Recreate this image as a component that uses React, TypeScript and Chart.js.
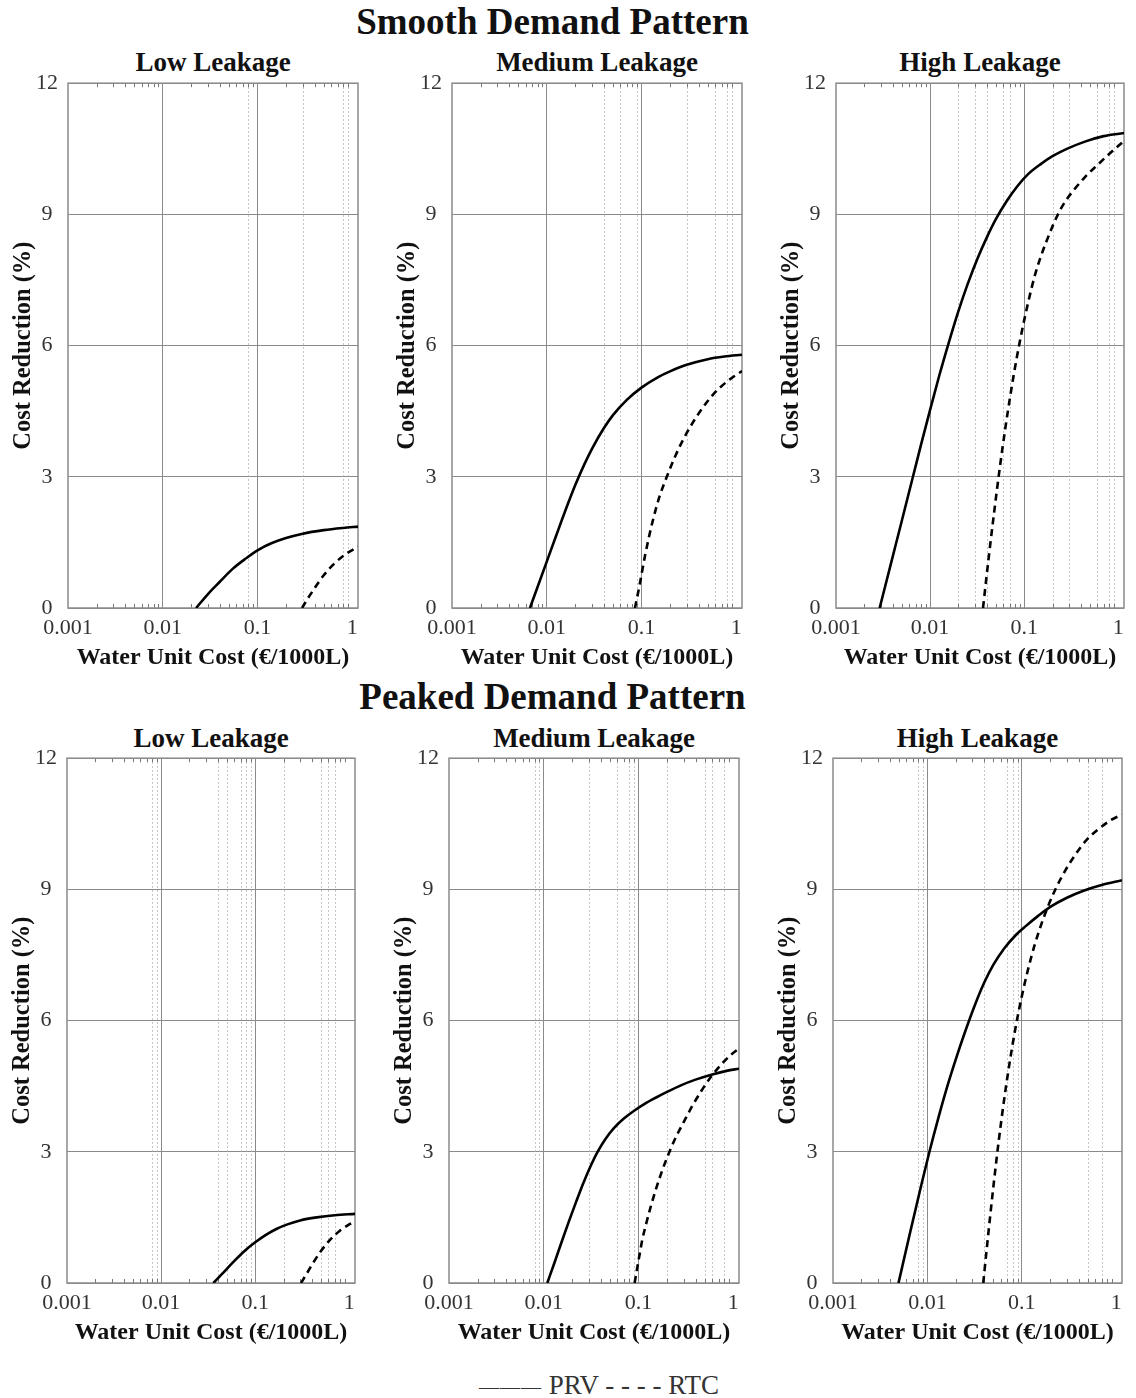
import React, { useEffect, useRef } from "react";
import { Chart, registerables } from "chart.js";

Chart.register(...registerables);

const SERIF = '"Liberation Serif", "Times New Roman", Times, serif';

// Water unit cost (€/1000L) against cost reduction (%) for each scenario.
const smoothLowPrvCost = [0.0225, 0.03, 0.04, 0.055, 0.075, 0.1, 0.14, 0.2, 0.3, 0.5, 0.8, 1.15];
const smoothLowPrvReduction = [0, 0.32, 0.6, 0.9, 1.13, 1.32, 1.48, 1.6, 1.7, 1.78, 1.83, 1.86];
const smoothLowRtcCost = [0.295, 0.34, 0.4, 0.5, 0.65, 0.85, 1.15];
const smoothLowRtcReduction = [0, 0.22, 0.45, 0.75, 1.02, 1.23, 1.4];

const smoothMediumPrvCost = [0.00665, 0.008, 0.01, 0.0125, 0.015, 0.02, 0.025, 0.03, 0.04, 0.05, 0.07, 0.1, 0.15, 0.2, 0.3, 0.5, 0.75, 1.15];
const smoothMediumPrvReduction = [0, 0.48, 1.06, 1.64, 2.11, 2.81, 3.29, 3.64, 4.11, 4.41, 4.76, 5.04, 5.28, 5.41, 5.56, 5.69, 5.75, 5.79];
const smoothMediumRtcCost = [0.0853, 0.095, 0.109, 0.13, 0.155, 0.185, 0.23, 0.28, 0.339, 0.45, 0.569, 0.8, 1.15];
const smoothMediumRtcReduction = [0, 0.5, 1.2, 1.95, 2.55, 3.0, 3.5, 3.88, 4.2, 4.6, 4.88, 5.18, 5.42];

const smoothHighPrvCost = [0.00291, 0.004, 0.005, 0.0065, 0.008, 0.01, 0.0125, 0.016, 0.02, 0.025, 0.032, 0.04, 0.05, 0.065, 0.085, 0.11, 0.15, 0.2, 0.3, 0.45, 0.7, 1.15];
const smoothHighPrvReduction = [0, 1.17, 1.99, 2.96, 3.73, 4.53, 5.31, 6.11, 6.79, 7.4, 8.0, 8.47, 8.89, 9.3, 9.65, 9.92, 10.15, 10.33, 10.52, 10.67, 10.79, 10.86];
const smoothHighRtcCost = [0.0365, 0.042, 0.048, 0.055, 0.063, 0.072, 0.083, 0.095, 0.11, 0.13, 0.155, 0.185, 0.22, 0.27, 0.35, 0.45, 0.6, 0.8, 1.15];
const smoothHighRtcReduction = [0, 1.16, 2.2, 3.2, 4.11, 4.92, 5.7, 6.35, 6.98, 7.61, 8.12, 8.55, 8.93, 9.28, 9.6, 9.87, 10.13, 10.38, 10.68];

const peakedLowPrvCost = [0.0359, 0.045, 0.058, 0.075, 0.1, 0.13, 0.17, 0.22, 0.3, 0.45, 0.7, 1.15];
const peakedLowPrvReduction = [0, 0.22, 0.47, 0.71, 0.93, 1.1, 1.24, 1.34, 1.43, 1.5, 1.55, 1.58];
const peakedLowRtcCost = [0.307, 0.35, 0.41, 0.5, 0.62, 0.8, 1.15];
const peakedLowRtcReduction = [0, 0.2, 0.45, 0.73, 0.98, 1.2, 1.42];

const peakedMediumPrvCost = [0.0109, 0.013, 0.0155, 0.0185, 0.022, 0.026, 0.031, 0.037, 0.045, 0.055, 0.07, 0.09, 0.115, 0.15, 0.2, 0.28, 0.4, 0.6, 0.85, 1.15];
const peakedMediumPrvReduction = [0, 0.47, 0.95, 1.42, 1.86, 2.27, 2.66, 3.0, 3.3, 3.54, 3.76, 3.94, 4.09, 4.23, 4.37, 4.52, 4.65, 4.77, 4.85, 4.9];
const peakedMediumRtcCost = [0.091, 0.1, 0.11, 0.122, 0.136, 0.152, 0.17, 0.19, 0.215, 0.25, 0.3, 0.37, 0.46, 0.58, 0.75, 0.95, 1.15];
const peakedMediumRtcReduction = [0, 0.51, 1.0, 1.4, 1.78, 2.13, 2.45, 2.74, 3.03, 3.35, 3.68, 4.05, 4.39, 4.71, 5.0, 5.22, 5.36];

const peakedHighPrvCost = [0.00494, 0.0065, 0.0085, 0.0105, 0.013, 0.016, 0.02, 0.025, 0.032, 0.04, 0.05, 0.065, 0.085, 0.11, 0.15, 0.2, 0.3, 0.45, 0.7, 1.15];
const peakedHighPrvReduction = [0, 1.12, 2.19, 3.0, 3.76, 4.45, 5.12, 5.74, 6.37, 6.87, 7.28, 7.65, 7.94, 8.16, 8.4, 8.6, 8.81, 8.97, 9.1, 9.21];
const peakedHighRtcCost = [0.039, 0.044, 0.05, 0.057, 0.065, 0.075, 0.087, 0.1, 0.116, 0.135, 0.16, 0.19, 0.23, 0.29, 0.37, 0.48, 0.65, 0.87, 1.15];
const peakedHighRtcReduction = [0, 1.1, 2.21, 3.26, 4.2, 5.1, 5.91, 6.56, 7.16, 7.69, 8.19, 8.62, 9.03, 9.44, 9.8, 10.12, 10.38, 10.58, 10.71];

// Light dotted vertical grid lines inside each panel.
const smoothLowMinorGrid = [0.08, 0.3, 0.8, 0.9];
const smoothMediumMinorGrid = [0.04, 0.06, 0.09, 0.3, 0.6, 0.8, 0.9];
const smoothHighMinorGrid = [0.02, 0.03, 0.04, 0.06, 0.07, 0.2, 0.3, 0.6, 0.8, 0.9];
const peakedLowMinorGrid = [0.008, 0.009, 0.04, 0.05, 0.07, 0.08, 0.09, 0.2, 0.5, 0.6, 0.7];
const peakedMediumMinorGrid = [0.008, 0.009, 0.03, 0.06, 0.08, 0.09, 0.2, 0.5, 0.6, 0.8];
const peakedHighMinorGrid = [0.008, 0.009, 0.04, 0.07, 0.08, 0.09, 0.5, 0.7];

const xTickValues = [0.001, 0.01, 0.1, 1];
const xTickLabels = ["0.001", "0.01", "0.1", "1"];
const xMajorGrid = [0.01, 0.1];
const X_MIN = 0.001;
const X_MAX = 1.15;
const Y_MAX = 12;
const Y_STEP = 3;

const demandTitles = ["Smooth Demand Pattern", "Peaked Demand Pattern"];
const leakageTitles = ["Low Leakage", "Medium Leakage", "High Leakage"];
const xAxisTitle = "Water Unit Cost (€/1000L)";
const yAxisTitle = "Cost Reduction (%)";
const seriesNames = ["PRV", "RTC"];

// Page layout
const ROW_PLOT_TOP = [81, 756];
const PLOT_HEIGHT = 527;
const ROW_TITLE_Y = [22, 697];
const ROW_SUBTITLE_Y = [62, 738];
const Y_AXIS_W = 68;
const RIGHT_PAD = 26;
const TOP_PAD = 21;
const X_AXIS_H = 64;
const BOTTOM_PAD = 8;

const GRID = "#8a8a8a";
const FRAME = "#8a8a8a";
const TICK_TEXT = "#333";
const TITLE_TEXT = "#111";

type PanelSpec = {
  row: number;
  col: number;
  plotLeft: number;
  plotWidth: number;
  prvCost: number[];
  prvReduction: number[];
  rtcCost: number[];
  rtcReduction: number[];
  minorGrid: number[];
};

const panels: PanelSpec[] = [
  { row: 0, col: 0, plotLeft: 68, plotWidth: 290, prvCost: smoothLowPrvCost, prvReduction: smoothLowPrvReduction, rtcCost: smoothLowRtcCost, rtcReduction: smoothLowRtcReduction, minorGrid: smoothLowMinorGrid },
  { row: 0, col: 1, plotLeft: 452, plotWidth: 290, prvCost: smoothMediumPrvCost, prvReduction: smoothMediumPrvReduction, rtcCost: smoothMediumRtcCost, rtcReduction: smoothMediumRtcReduction, minorGrid: smoothMediumMinorGrid },
  { row: 0, col: 2, plotLeft: 836, plotWidth: 288, prvCost: smoothHighPrvCost, prvReduction: smoothHighPrvReduction, rtcCost: smoothHighRtcCost, rtcReduction: smoothHighRtcReduction, minorGrid: smoothHighMinorGrid },
  { row: 1, col: 0, plotLeft: 67, plotWidth: 288, prvCost: peakedLowPrvCost, prvReduction: peakedLowPrvReduction, rtcCost: peakedLowRtcCost, rtcReduction: peakedLowRtcReduction, minorGrid: peakedLowMinorGrid },
  { row: 1, col: 1, plotLeft: 449, plotWidth: 290, prvCost: peakedMediumPrvCost, prvReduction: peakedMediumPrvReduction, rtcCost: peakedMediumRtcCost, rtcReduction: peakedMediumRtcReduction, minorGrid: peakedMediumMinorGrid },
  { row: 1, col: 2, plotLeft: 833, plotWidth: 289, prvCost: peakedHighPrvCost, prvReduction: peakedHighPrvReduction, rtcCost: peakedHighRtcCost, rtcReduction: peakedHighRtcReduction, minorGrid: peakedHighMinorGrid },
];

const matchIndex = (v: number, list: number[]) =>
  list.findIndex((t) => v > 0 && Math.abs(Math.log10(v) - Math.log10(t)) < 1e-6);

// Dotted minor grid, small inward minor ticks and the box around the plot area.
const framePlugin = {
  id: "frame",
  beforeDatasetsDraw(chart: any, _args: any, opts: any) {
    const { ctx, chartArea: a, scales } = chart;
    const xs = scales.x;
    ctx.save();
    ctx.strokeStyle = "#b4b4b4";
    ctx.lineWidth = 1;
    ctx.setLineDash([1.5, 2.5]);
    for (const v of opts.minor || []) {
      const px = Math.round(xs.getPixelForValue(v)) + 0.5;
      ctx.beginPath();
      ctx.moveTo(px, a.top);
      ctx.lineTo(px, a.bottom);
      ctx.stroke();
    }
    ctx.setLineDash([]);
    ctx.strokeStyle = "#777";
    for (let e = -3; e <= 0; e++) {
      for (let m = 2; m <= 9; m++) {
        const v = m * Math.pow(10, e);
        if (v <= X_MIN || v >= X_MAX) continue;
        const px = Math.round(xs.getPixelForValue(v)) + 0.5;
        ctx.beginPath();
        ctx.moveTo(px, a.top);
        ctx.lineTo(px, a.top + 4);
        ctx.moveTo(px, a.bottom);
        ctx.lineTo(px, a.bottom - 4);
        ctx.stroke();
      }
    }
    ctx.strokeStyle = FRAME;
    ctx.lineWidth = 1.5;
    ctx.strokeRect(a.left, a.top, a.right - a.left, a.bottom - a.top);
    ctx.restore();
  },
};

function Panel({ spec }: { spec: PanelSpec }) {
  const ref = useRef<HTMLCanvasElement>(null);
  const width = Y_AXIS_W + spec.plotWidth + RIGHT_PAD;
  const height = TOP_PAD + PLOT_HEIGHT + X_AXIS_H + BOTTOM_PAD;
  const left = spec.plotLeft - Y_AXIS_W;
  const top = ROW_PLOT_TOP[spec.row] - TOP_PAD;

  useEffect(() => {
    if (!ref.current) return;
    const line = (xs: number[], ys: number[], dashed: boolean, label: string) => ({
      label,
      data: xs.map((x, i) => ({ x, y: ys[i] })),
      borderColor: "#000",
      backgroundColor: "#000",
      borderWidth: 2.6,
      borderDash: dashed ? [7, 5] : [],
      pointRadius: 0,
      cubicInterpolationMode: "monotone" as const,
      fill: false,
    });
    const chart = new Chart(ref.current, {
      type: "line",
      data: {
        datasets: [
          line(spec.prvCost, spec.prvReduction, false, seriesNames[0]),
          line(spec.rtcCost, spec.rtcReduction, true, seriesNames[1]),
        ],
      },
      options: {
        responsive: false,
        devicePixelRatio: 1,
        animation: false,
        events: [],
        layout: { padding: { top: TOP_PAD, right: RIGHT_PAD, bottom: BOTTOM_PAD, left: 0 } },
        plugins: {
          legend: { display: false },
          tooltip: { enabled: false },
          title: { display: false },
          frame: { minor: spec.minorGrid },
        } as any,
        scales: {
          x: {
            type: "logarithmic",
            min: X_MIN,
            max: X_MAX,
            afterFit: (s: any) => {
              s.height = X_AXIS_H;
            },
            border: { display: false },
            grid: {
              drawTicks: false,
              lineWidth: 1,
              color: (c: any) =>
                c.tick && matchIndex(c.tick.value, xMajorGrid) >= 0 ? GRID : "rgba(0,0,0,0)",
            },
            ticks: {
              autoSkip: false,
              maxRotation: 0,
              minRotation: 0,
              padding: 7,
              color: TICK_TEXT,
              font: { family: SERIF, size: 22 },
              callback: (value: any) => {
                const i = matchIndex(Number(value), xTickValues);
                return i >= 0 ? xTickLabels[i] : "";
              },
            },
            title: {
              display: true,
              text: xAxisTitle,
              color: TITLE_TEXT,
              font: { family: SERIF, size: 24, weight: "bold" },
              padding: { top: 0, bottom: 0 },
            },
          },
          y: {
            type: "linear",
            min: 0,
            max: Y_MAX,
            afterFit: (s: any) => {
              s.width = Y_AXIS_W;
            },
            border: { display: false },
            grid: { drawTicks: false, color: GRID, lineWidth: 1 },
            ticks: {
              stepSize: Y_STEP,
              padding: 10,
              crossAlign: "center",
              color: TICK_TEXT,
              font: { family: SERIF, size: 22 },
            },
            title: {
              display: true,
              text: yAxisTitle,
              color: TITLE_TEXT,
              font: { family: SERIF, size: 24.5, weight: "bold" },
              padding: { top: 9, bottom: 0 },
            },
          },
        },
      },
      plugins: [framePlugin],
    });
    return () => chart.destroy();
  }, [spec]);

  return (
    <canvas
      ref={ref}
      width={width}
      height={height}
      style={{ position: "absolute", left, top, width, height }}
    />
  );
}

export default function App() {
  return (
    <div
      style={{
        position: "absolute",
        left: 0,
        top: 0,
        width: 1136,
        height: 1398,
        background: "#fff",
        fontFamily: SERIF,
        color: TITLE_TEXT,
        overflow: "hidden",
      }}
    >
      {demandTitles.map((t, r) => (
        <div
          key={t}
          style={{
            position: "absolute",
            left: 0,
            width: 1105,
            top: ROW_TITLE_Y[r] - 20,
            lineHeight: "40px",
            textAlign: "center",
            fontSize: 37,
            fontWeight: "bold",
          }}
        >
          {t}
        </div>
      ))}
      {panels.map((p) => (
        <div
          key={`s${p.row}${p.col}`}
          style={{
            position: "absolute",
            left: p.plotLeft,
            width: p.plotWidth,
            top: ROW_SUBTITLE_Y[p.row] - 15,
            lineHeight: "30px",
            textAlign: "center",
            fontSize: 27,
            fontWeight: "bold",
          }}
        >
          {leakageTitles[p.col]}
        </div>
      ))}
      {panels.map((p) => (
        <Panel key={`p${p.row}${p.col}`} spec={p} />
      ))}
      <div
        style={{
          position: "absolute",
          left: 399,
          width: 400,
          top: 1370,
          lineHeight: "30px",
          textAlign: "center",
          fontSize: 27,
          color: "#333",
          whiteSpace: "nowrap",
        }}
      >
        <span style={{ fontSize: 20, letterSpacing: 1 }}>———</span> {seriesNames[0]} - - - - {seriesNames[1]}
      </div>
    </div>
  );
}
